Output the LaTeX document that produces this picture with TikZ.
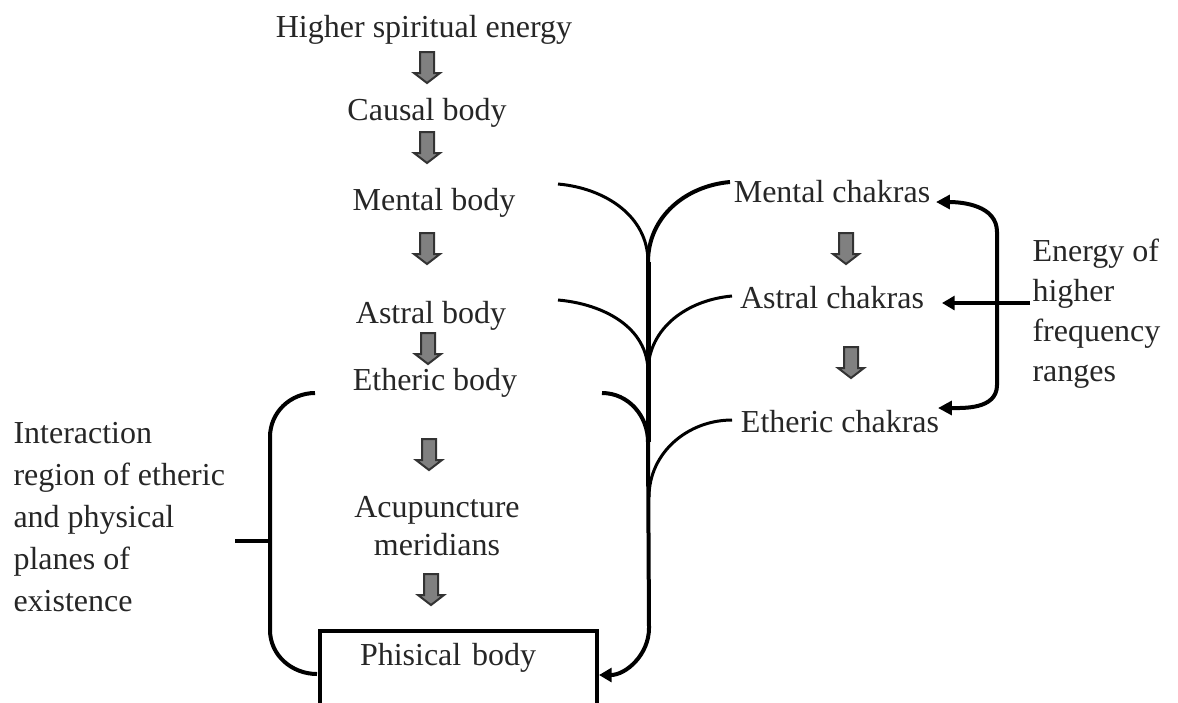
\documentclass[tikz,border=0pt]{standalone}
\usepackage{fontspec}
\setmainfont{Liberation Serif}
\usetikzlibrary{arrows.meta}

\tikzset{
  lbl/.style={inner sep=0pt, text=black!85, font=\fontsize{12.8}{16.4}\selectfont},
  stem/.style={line width=1.2pt},
  stemthick/.style={line width=1.6pt},
  tip/.style={-{Triangle[length=5pt,width=5.5pt]}},
  twotips/.style={{Triangle[length=5.5pt,width=5.5pt]}-{Triangle[length=5.5pt,width=5.5pt]}},
}

\begin{document}
\begin{tikzpicture}[x=0.4pt,y=-0.4pt]
  \useasboundingbox (0,0) rectangle (1178,702);
  \clip (0,0) rectangle (1178,702);

  % bodies
  \node[lbl, anchor=base] (higher) at (424,37) {Higher spiritual energy};
  \node[lbl, anchor=base] (causal) at (427,120) {Causal body};
  \node[lbl, anchor=base] (mental) at (434,210) {Mental body};
  \node[lbl, anchor=base] (astral) at (431,323) {Astral body};
  \node[lbl, anchor=base] (etheric) at (435,390) {Etheric body};
  \node[lbl, anchor=north, align=center, font=\fontsize{12.8}{15.2}\selectfont] (acup) at (437,496) {Acupuncture\\meridians};
  \node[lbl, draw=black, line width=1.6pt, anchor=north west, inner xsep=16pt,
        text width=78.8pt, align=left, text height=13.6pt, text depth=32pt] (phys) at (318,629) {Phisical body};

  % chakras
  \node[lbl, anchor=base] (mentalc) at (832,202) {Mental chakras};
  \node[lbl, anchor=base] (astralc) at (832,308) {Astral chakras};
  \node[lbl, anchor=base] (ethericc) at (840,432) {Etheric chakras};

  \node[lbl, anchor=north west, align=left, font=\fontsize{12.8}{16}\selectfont] (energy) at (1032,238)
  {Energy of\\higher\\frequency\\ranges};
  \node[lbl, anchor=north west, align=left, font=\fontsize{12.8}{16.8}\selectfont] (region) at (13,422)
  {Interaction\\region of etheric\\and physical\\planes of\\existence};

  % gray arrows
  \foreach \x/\y in {427/52, 427/132, 427/233, 428/333, 429/439, 431/574, 846/233, 851/347}
    \filldraw[fill=gray, draw=black!80, line width=0.8pt] (\x-7,\y) -- (\x+7,\y) -- (\x+7,\y+21)
      -- (\x+13,\y+21) -- (\x,\y+31) -- (\x-13,\y+21) -- (\x-7,\y+21) -- cycle;

  % tree
  \coordinate (mb) at (558,184);
  \coordinate (mc) at (730,182);
  \coordinate (ab) at (558,300);
  \coordinate (ac) at (732,296);
  \coordinate (eb) at (602,393);
  \coordinate (ec) at (732,420);
  \coordinate (j1) at (648,262);
  \coordinate (j2) at (648,372);
  \coordinate (j3) at (648,442);
  \coordinate (j4) at (649,497);
  \coordinate (jb) at (649,628);
  \coordinate (pin) at (599,675);

  \draw[stem] (mb) to[out=-5,in=90] (j1);
  \draw[stemthick] (mc) to[out=185,in=90] (j1);
  \draw[stem] (ab) to[out=-5,in=90] (j2);
  \draw[stem] (ac) to[out=185,in=90] (j2);
  \draw[stemthick] (eb) to[out=0,in=90] (j3);
  \draw[stem] (ec) to[out=180,in=90] (j4);
  \draw[line width=2pt] (j1) -- (j3);
  \draw[stemthick, tip] (j3) -- (jb) to[out=-90,in=0] (pin);

  % left bracket
  \coordinate (lt) at (315,393);
  \coordinate (lb) at (317,674);
  \coordinate (lm) at (270,541);
  \coordinate (lx) at (235,541);
  \draw[stemthick] (lt) to[out=180,in=90] ++(-45,44) -- ++(0,193) to[out=-90,in=180] (lb);
  \draw[stemthick] (lx) -- (lm);

  % right bracket
  \coordinate (mtip) at (936,202);
  \coordinate (etip) at (938,408);
  \coordinate (ein) at (1030,303);
  \coordinate (atip) at (942,303);
  \draw[stemthick, twotips] (mtip) to[out=0,in=90] ++(61,30) -- ++(0,153) to[out=-90,in=0] (etip);
  \draw[stemthick, tip] (ein) -- (atip);
\end{tikzpicture}
\end{document}
